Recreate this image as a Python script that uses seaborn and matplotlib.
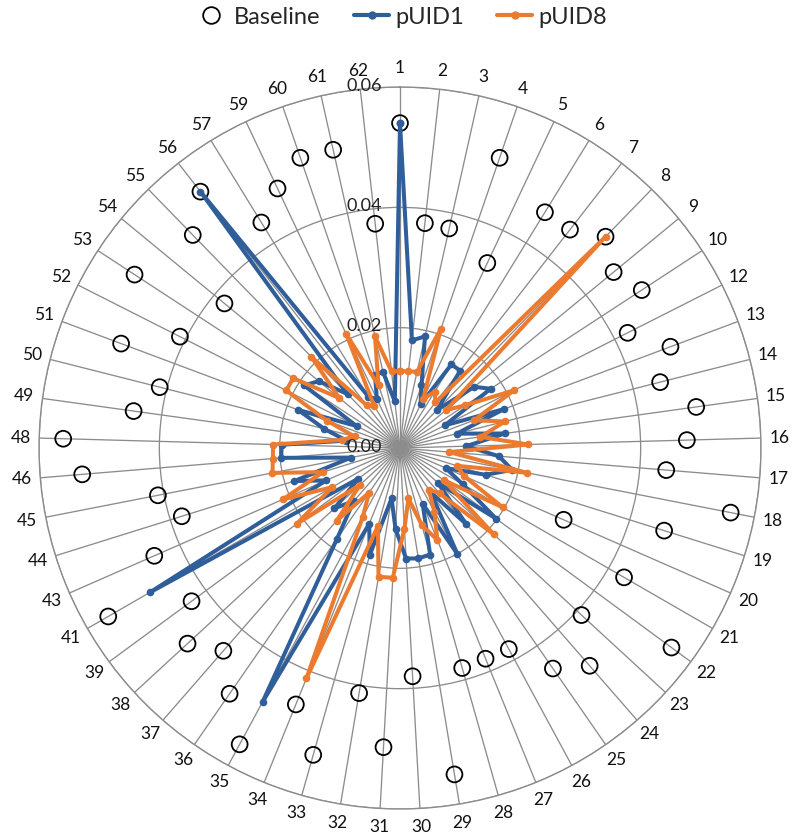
import numpy as np
import pandas as pd
import matplotlib
matplotlib.use("Agg")
import matplotlib.pyplot as plt
from matplotlib.lines import Line2D
import seaborn as sns

categories = [1, 2, 3, 4, 5, 6, 7, 8, 9, 10, 12, 13, 14, 15, 16, 17, 18, 19, 20,
              21, 22, 23, 24, 25, 26, 27, 28, 29, 30, 31, 32, 33, 34, 35, 36, 37,
              38, 39, 41, 43, 44, 45, 46, 48, 49, 50, 51, 52, 53, 54, 55, 56, 57,
              59, 60, 61, 62]

baseline = [0.054, 0.0376, 0.0374, 0.051, 0.034, 0.046, 0.046, 0.049, 0.046, 0.048,
            0.0424, 0.048, 0.0446, 0.0497, 0.0477, 0.0444, 0.056, 0.046, 0.0297,
            0.043, 0.056, 0.041, 0.048, 0.0446, 0.038, 0.0378, 0.038, 0.055, 0.038,
            0.0498, 0.0413, 0.053, 0.046, 0.056, 0.0497, 0.0447, 0.048, 0.043,
            0.056, 0.0446, 0.038, 0.041, 0.053, 0.056, 0.0447, 0.0412, 0.0495,
            0.041, 0.0527, 0.0378, 0.0494, 0.054, 0.044, 0.0477, 0.051, 0.0508,
            0.0375]

puid1 = [0.054, 0.018, 0.019, 0.011, 0.008, 0.0163, 0.0163, 0.0088, 0.016, 0.018,
         0.0083, 0.0185, 0.0097, 0.0176, 0.011, 0.0165, 0.019, 0.0149, 0.0083,
         0.012, 0.0198, 0.0085, 0.0168, 0.009, 0.020, 0.010, 0.0184, 0.0186,
         0.0184, 0.0135, 0.0085, 0.0185, 0.0136, 0.048, 0.0184, 0.0117, 0.0148,
         0.0086, 0.048, 0.0134, 0.0184, 0.0083, 0.0198, 0.0197, 0.009, 0.013,
         0.0181, 0.0081, 0.019, 0.0175, 0.0125, 0.054, 0.010, 0.009, 0.0128,
         0.013, 0.0078]

puid8 = [0.0128, 0.0128, 0.013, 0.021, 0.009, 0.011, 0.0096, 0.049, 0.0099, 0.013,
         0.0213, 0.0131, 0.018, 0.0135, 0.0213, 0.0082, 0.0215, 0.0099, 0.0117,
         0.0197, 0.009, 0.0212, 0.010, 0.0084, 0.012, 0.0165, 0.0133, 0.0085,
         0.0134, 0.0216, 0.0217, 0.0135, 0.0413, 0.013, 0.009, 0.016, 0.009,
         0.0213, 0.013, 0.0213, 0.0134, 0.0216, 0.0212, 0.0211, 0.0098, 0.0078,
         0.013, 0.0212, 0.0212, 0.0131, 0.0211, 0.009, 0.0082, 0.021, 0.011,
         0.019, 0.0128]

radial_ticks = [0.00, 0.02, 0.04, 0.06]
radial_labels = ["0.00", "0.02", "0.04", "0.06"]

sns.set_style("white")
plt.rcParams["font.family"] = ["Lato", "DejaVu Sans"]

BLUE = "#2F5E9A"
ORANGE = "#EC7A2F"
GRID = "#8c8c8c"

n = len(categories)
theta = np.linspace(0, 2 * np.pi, n, endpoint=False)
theta_closed = np.append(theta, theta[0])

df_base = pd.DataFrame({"theta": theta, "value": baseline})
df_p1 = pd.DataFrame({"theta": theta_closed, "value": puid1 + [puid1[0]]})
df_p8 = pd.DataFrame({"theta": theta_closed, "value": puid8 + [puid8[0]]})

fig = plt.figure(figsize=(8, 8.36), dpi=100)
ax = fig.add_axes([0.04875, 0.0323, 0.9025, 0.8636], projection="polar")
ax.set_theta_zero_location("N")
ax.set_theta_direction(-1)
ax.set_ylim(0, 0.06)

# grid
ax.set_xticks(theta)
ax.set_xticklabels([str(c) for c in categories], fontsize=12.5, color="#111111")
ax.tick_params(axis="x", pad=3)
ax.set_yticks(radial_ticks[1:])
ax.set_yticklabels([])
ax.grid(True, color=GRID, linewidth=0.95)
ax.spines["polar"].set_color(GRID)
ax.spines["polar"].set_linewidth(1.0)

# series
sns.scatterplot(data=df_base, x="theta", y="value", ax=ax, marker="o", s=130,
                facecolor="none", edgecolor="black", linewidth=1.3, zorder=3,
                legend=False)
sns.lineplot(data=df_p1, x="theta", y="value", ax=ax, sort=False, color=BLUE,
             linewidth=2.9, marker="o", markersize=5.5, markeredgewidth=0,
             zorder=4, legend=False, estimator=None)
sns.lineplot(data=df_p8, x="theta", y="value", ax=ax, sort=False, color=ORANGE,
             linewidth=2.9, marker="o", markersize=5.5, markeredgewidth=0,
             zorder=5, legend=False, estimator=None)
ax.set_xlabel("")
ax.set_ylabel("")

# radial value labels
for r, lab in zip(radial_ticks, radial_labels):
    ax.annotate(lab, xy=(0, r), xytext=(-13, 1), textcoords="offset points",
                ha="right", va="center", fontsize=13, color="#222222",
                annotation_clip=False, zorder=6)

handles = [
    Line2D([], [], ls="none", marker="o", mfc="none", mec="black", ms=12, mew=1.3),
    Line2D([], [], color=BLUE, lw=3, marker="o", ms=5),
    Line2D([], [], color=ORANGE, lw=3, marker="o", ms=5),
]
fig.legend(handles, ["Baseline", "pUID1", "pUID8"], loc="center",
           bbox_to_anchor=(0.5, 1 - 17 / 836), ncol=3, frameon=False,
           fontsize=17, handlelength=1.5, handletextpad=0.25, columnspacing=1.4)

fig.savefig("out.png", dpi=100)
